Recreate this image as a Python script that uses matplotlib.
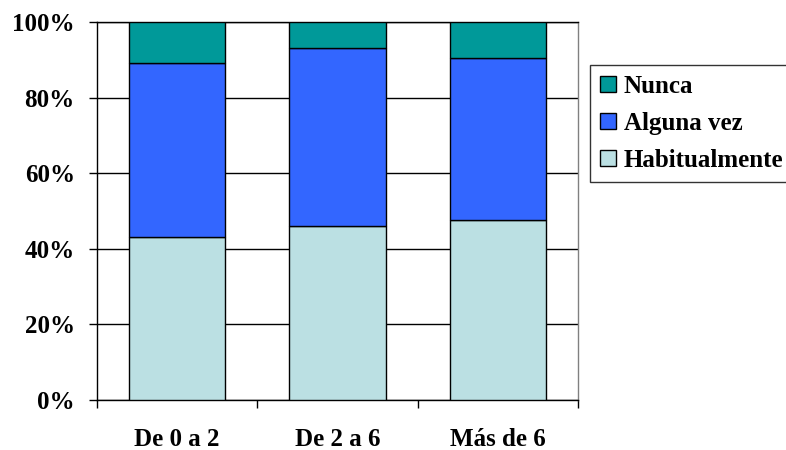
import matplotlib.pyplot as plt
import numpy as np

plt.rcParams['font.family'] = ['Liberation Serif', 'DejaVu Serif']
plt.rcParams['font.weight'] = 'bold'

categorias = ["De 0 a 2", "De 2 a 6", "Más de 6"]
habitualmente = [43.2, 46.0, 47.6]
alguna_vez = [45.9, 47.0, 42.9]
nunca = [10.9, 7.0, 9.5]

fig = plt.figure(figsize=(7.86, 4.5), dpi=100)
ax = fig.add_axes([0.1234, 0.1111, 0.612, 0.84])

x = np.arange(len(categorias))
hab = np.array(habitualmente)
alg = np.array(alguna_vez)
nun = np.array(nunca)

b1 = ax.bar(x, hab, 0.6, color="#BBE0E3", edgecolor="black", linewidth=1, label="Habitualmente", zorder=3)
b2 = ax.bar(x, alg, 0.6, bottom=hab, color="#3366FF", edgecolor="black", linewidth=1, label="Alguna vez", zorder=3)
b3 = ax.bar(x, nun, 0.6, bottom=hab + alg, color="#009999", edgecolor="black", linewidth=1, label="Nunca", zorder=3)

ax.set_xlim(-0.5, 2.5)
ax.set_ylim(0, 100)
ax.set_yticks(np.arange(0, 101, 20))
ax.set_yticklabels([f"{v}%" for v in range(0, 101, 20)], fontsize=18, fontweight="bold")
ax.yaxis.grid(True, color="black", linewidth=1, zorder=0)

ax.set_xticks(x)
ax.set_xticklabels(categorias, fontsize=18, fontweight="bold")
ax.set_xticks([-0.5, 0.5, 1.5, 2.5], minor=True)
ax.tick_params(axis="x", which="major", length=0, pad=20)
ax.tick_params(axis="x", which="minor", length=6, direction="out", width=1)
ax.tick_params(axis="y", length=6, direction="out", width=1, pad=10)

for s in ax.spines.values():
    s.set_color("black")
    s.set_linewidth(1)
ax.spines["right"].set_color("#808080")

leg = ax.legend(handles=[b3, b2, b1], loc="upper left", bbox_to_anchor=(0.7506, 0.8556),
                bbox_transform=fig.transFigure, frameon=True, fancybox=False,
                prop={"size": 18, "weight": "bold"}, handlelength=0.64, handleheight=0.64,
                handletextpad=0.32, labelspacing=0.56, borderpad=0.4, borderaxespad=0)
leg.get_frame().set_edgecolor("black")
leg.get_frame().set_linewidth(1)

fig.savefig("out.png", dpi=100)
